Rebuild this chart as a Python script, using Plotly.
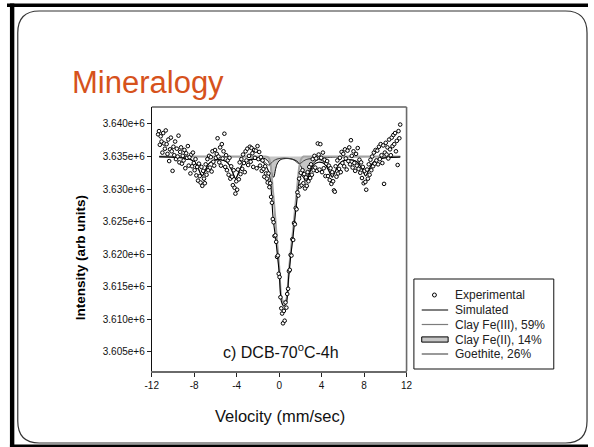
import plotly.graph_objects as go

W, H = 594, 447

# ---------------- data ----------------
velocity = [
    -11.40, -11.32, -11.24, -11.16, -11.08, -11.00, -10.92, -10.84, -10.76, -10.68,
    -10.60, -10.52, -10.44, -10.36, -10.28, -10.20, -10.12, -10.04, -9.96, -9.88,
    -9.80, -9.72, -9.64, -9.56, -9.48, -9.40, -9.32, -9.24, -9.16, -9.08,
    -9.00, -8.92, -8.84, -8.76, -8.68, -8.60, -8.52, -8.44, -8.36, -8.28,
    -8.20, -8.12, -8.04, -7.96, -7.88, -7.80, -7.72, -7.64, -7.56, -7.48,
    -7.40, -7.32, -7.24, -7.16, -7.08, -7.00, -6.92, -6.84, -6.76, -6.68,
    -6.60, -6.52, -6.44, -6.36, -6.28, -6.20, -6.12, -6.04, -5.96, -5.88,
    -5.80, -5.72, -5.64, -5.56, -5.48, -5.40, -5.32, -5.24, -5.16, -5.08,
    -5.00, -4.92, -4.84, -4.76, -4.68, -4.60, -4.52, -4.44, -4.36, -4.28,
    -4.20, -4.12, -4.04, -3.96, -3.88, -3.80, -3.72, -3.64, -3.56, -3.48,
    -3.40, -3.32, -3.24, -3.16, -3.08, -3.00, -2.92, -2.84, -2.76, -2.68,
    -2.60, -2.52, -2.44, -2.36, -2.28, -2.20, -2.12, -2.04, -1.96, -1.88,
    -1.80, -1.72, -1.64, -1.56, -1.48, -1.40, -1.32, -1.24, -1.16, -1.08,
    -1.00, -0.92, -0.84, -0.76, -0.68, -0.60, -0.52, -0.44, -0.36, -0.28,
    -0.20, -0.12, -0.04, 0.04, 0.12, 0.20, 0.28, 0.36, 0.44, 0.52,
    0.60, 0.68, 0.76, 0.84, 0.92, 1.00, 1.08, 1.16, 1.24, 1.32,
    1.40, 1.48, 1.56, 1.64, 1.72, 1.80, 1.88, 1.96, 2.04, 2.12,
    2.20, 2.28, 2.36, 2.44, 2.52, 2.60, 2.68, 2.76, 2.84, 2.92,
    3.00, 3.08, 3.16, 3.24, 3.32, 3.40, 3.48, 3.56, 3.64, 3.72,
    3.80, 3.88, 3.96, 4.04, 4.12, 4.20, 4.28, 4.36, 4.44, 4.52,
    4.60, 4.68, 4.76, 4.84, 4.92, 5.00, 5.08, 5.16, 5.24, 5.32,
    5.40, 5.48, 5.56, 5.64, 5.72, 5.80, 5.88, 5.96, 6.04, 6.12,
    6.20, 6.28, 6.36, 6.44, 6.52, 6.60, 6.68, 6.76, 6.84, 6.92,
    7.00, 7.08, 7.16, 7.24, 7.32, 7.40, 7.48, 7.56, 7.64, 7.72,
    7.80, 7.88, 7.96, 8.04, 8.12, 8.20, 8.28, 8.36, 8.44, 8.52,
    8.60, 8.68, 8.76, 8.84, 8.92, 9.00, 9.08, 9.16, 9.24, 9.32,
    9.40, 9.48, 9.56, 9.64, 9.72, 9.80, 9.88, 9.96, 10.04, 10.12,
    10.20, 10.28, 10.36, 10.44, 10.52, 10.60, 10.68, 10.76, 10.84, 10.92,
    11.00, 11.08, 11.16, 11.24, 11.32, 11.40,
]

# experimental counts, in thousands
counts_k = [
    3638.4, 3638.9, 3636.8, 3638.1, 3637.3, 3635.6, 3638.6, 3637.0, 3636.2, 3639.0,
    3636.9, 3635.4, 3637.6, 3634.3, 3636.1, 3637.9, 3635.8, 3632.8, 3636.5, 3635.2,
    3637.3, 3634.6, 3636.2, 3635.0, 3638.2, 3634.1, 3635.7, 3636.4, 3633.9, 3635.1,
    3634.4, 3636.0, 3633.2, 3635.5, 3634.8, 3636.6, 3633.6, 3634.9, 3632.4, 3635.3,
    3633.5, 3635.6, 3634.0, 3632.9, 3634.6, 3632.1, 3633.4, 3631.3, 3633.9, 3632.0,
    3631.0, 3633.4, 3630.5, 3632.8, 3631.6, 3630.9, 3633.8, 3632.2, 3634.6, 3632.9,
    3635.1, 3633.3, 3634.9, 3632.7, 3635.8, 3634.2, 3633.6, 3636.0, 3634.8, 3635.4,
    3637.8, 3635.0, 3634.1, 3636.4, 3633.6, 3636.9, 3634.7, 3635.8, 3638.5,
    3633.4, 3635.2, 3632.9, 3634.4, 3632.2, 3634.8, 3631.6, 3633.5, 3631.9, 3630.6,
    3632.9, 3630.2, 3629.3, 3631.2, 3629.9, 3633.0, 3631.5, 3634.1, 3632.3, 3634.6,
    3633.1, 3635.3, 3634.0, 3632.6, 3635.8, 3634.4, 3636.2, 3633.7, 3635.1, 3636.5,
    3634.2, 3636.3, 3635.5, 3633.4, 3636.0, 3634.8, 3635.9, 3633.2, 3636.6, 3634.6,
    3635.7, 3633.6, 3634.9, 3632.8, 3634.4, 3633.1, 3631.9, 3633.5, 3632.4, 3631.6,
    3631.0, 3632.4, 3630.3, 3630.9, 3628.8, 3627.9, 3625.4, 3624.9, 3622.8, 3622.9,
    3621.9, 3619.6, 3619.8, 3617.0, 3616.5, 3613.4, 3611.7, 3610.9, 3609.4, 3611.3,
    3609.8, 3612.6, 3611.8, 3613.9, 3614.7, 3617.4, 3617.6, 3619.9, 3619.8, 3622.3,
    3622.2, 3624.8, 3624.6, 3627.1, 3626.9, 3629.5, 3629.0, 3631.6, 3630.4, 3632.5,
    3630.6, 3632.9, 3630.9, 3632.3, 3630.1, 3631.8, 3630.5, 3632.6, 3631.2, 3633.4,
    3631.7, 3633.8, 3632.2, 3634.6, 3632.9, 3635.1, 3633.3, 3634.7, 3632.8, 3637.0,
    3635.3, 3633.0, 3636.9, 3634.8, 3632.6, 3635.6, 3633.2, 3634.5, 3632.0, 3633.9,
    3634.3, 3632.0, 3633.6, 3631.4, 3633.2, 3630.8, 3632.6, 3631.2, 3629.8, 3629.6,
    3633.5, 3631.9, 3634.4, 3632.4, 3633.1, 3634.8, 3632.6, 3635.7, 3634.0,
    3635.4, 3633.5, 3636.1, 3634.7, 3633.0, 3635.9, 3634.3, 3636.4, 3633.8, 3637.5,
    3635.1, 3633.3, 3635.8, 3634.0, 3632.8, 3635.4, 3633.6, 3636.3, 3633.1, 3634.5,
    3632.5, 3634.1, 3631.7, 3633.4, 3630.9, 3632.8, 3631.1, 3629.9, 3633.0, 3631.6,
    3633.8, 3632.2, 3634.5, 3632.9, 3635.0, 3633.5, 3635.6, 3633.9, 3636.0, 3634.4,
    3635.9, 3633.8, 3636.5, 3634.6, 3636.9, 3635.2, 3634.0, 3636.7, 3630.8, 3635.6,
    3637.1, 3635.3, 3636.4, 3634.7, 3637.6, 3636.1, 3635.2, 3637.9, 3636.6, 3638.3,
    3636.9, 3638.6, 3635.8, 3637.4, 3633.7, 3638.9, 3637.8, 3639.9,
]

curve_velocity = [
    -11.3, -10.0, -9.0, -8.4, -8.0, -7.7, -7.5, -7.25, -7.0, -6.8,
    -6.5, -6.1, -5.5, -5.0, -4.7, -4.4, -4.1, -3.8, -3.5, -3.1,
    -2.6, -2.0, -1.6, -1.3, -1.0, -0.8, -0.6, -0.5, -0.35, -0.2,
    0.0, 0.2, 0.44, 0.7, 0.9, 1.1, 1.3, 1.5, 1.7, 1.9,
    2.1, 2.3, 2.45, 2.6, 2.8, 3.0, 3.3, 3.7, 4.1, 4.4,
    4.7, 5.0, 5.3, 5.6, 6.0, 6.5, 7.0, 7.4, 7.8, 8.15,
    8.5, 8.8, 9.2, 9.8, 10.5, 11.4,
]

simulated = [
    3634955, 3634898, 3634782, 3634566, 3634175, 3633490, 3632709, 3632019, 3632688, 3633448,
    3634107, 3634441, 3634494, 3634212, 3633700, 3632628, 3631591, 3632613, 3633700, 3634322,
    3634563, 3634494, 3634219, 3633705, 3632735, 3630940, 3626091, 3624525, 3622680, 3620439,
    3617238, 3612793, 3612016, 3612635, 3616589, 3619873, 3622595, 3625777, 3628700, 3631294,
    3632077, 3631780, 3631293, 3631277, 3632096, 3633003, 3633782, 3634122, 3634036, 3633629,
    3632685, 3631787, 3632730, 3633736, 3634287, 3634485, 3634415, 3634090, 3633084, 3632018,
    3633121, 3633998, 3634496, 3634759, 3634866, 3634933,
]

clay_fe3 = [
    3635000, 3635000, 3635000, 3635000, 3635000, 3635000, 3635000, 3635000, 3635000, 3635000,
    3635000, 3635000, 3635000, 3635000, 3635000, 3635000, 3635000, 3635000, 3635000, 3635000,
    3635000, 3635000, 3635000, 3635000, 3634850, 3633700, 3630000, 3628300, 3625200, 3622000,
    3618200, 3613500, 3612600, 3613200, 3617200, 3620600, 3623500, 3627000, 3630400, 3633500,
    3634700, 3635000, 3635000, 3635000, 3635000, 3635000, 3635000, 3635000, 3635000, 3635000,
    3635000, 3635000, 3635000, 3635000, 3635000, 3635000, 3635000, 3635000, 3635000, 3635000,
    3635000, 3635000, 3635000, 3635000, 3635000, 3635000,
]

clay_fe2 = [
    3634995, 3634993, 3634992, 3634991, 3634990, 3634990, 3634989, 3634989, 3634988, 3634988,
    3634987, 3634986, 3634984, 3634982, 3634980, 3634978, 3634976, 3634973, 3634970, 3634964,
    3634952, 3634876, 3634790, 3634638, 3634193, 3633344, 3631863, 3631861, 3632971, 3633833,
    3634352, 3634563, 3634665, 3634693, 3634679, 3634638, 3634563, 3634440, 3634238, 3633898,
    3633320, 3632453, 3631831, 3631718, 3632461, 3633334, 3634114, 3634552, 3634736, 3634809,
    3634855, 3634887, 3634910, 3634926, 3634942, 3634955, 3634965, 3634970, 3634974, 3634978,
    3634981, 3634983, 3634986, 3634989, 3634991, 3634993,
]

goethite = [
    3634960, 3634905, 3634790, 3634575, 3634185, 3633500, 3632720, 3632030, 3632700, 3633460,
    3634120, 3634455, 3634510, 3634230, 3633720, 3632650, 3631615, 3632640, 3633730, 3634358,
    3634611, 3634618, 3634429, 3634067, 3633692, 3633896, 3634228, 3634364, 3634509, 3634606,
    3634686, 3634730, 3634751, 3634742, 3634710, 3634635, 3634532, 3634337, 3634062, 3633896,
    3634057, 3634327, 3634462, 3634559, 3634635, 3634669, 3634668, 3634570, 3634300, 3633820,
    3632830, 3631900, 3632820, 3633810, 3634345, 3634530, 3634450, 3634120, 3633110, 3632040,
    3633140, 3634015, 3634510, 3634770, 3634875, 3634940,
]

x_ticks = [-12, -8, -4, 0, 4, 8, 12]
x_tick_labels = ["-12", "-8", "-4", "0", "4", "8", "12"]
y_ticks = [3605000, 3610000, 3615000, 3620000, 3625000, 3630000, 3635000, 3640000]
y_tick_labels = ["3.605e+6", "3.610e+6", "3.615e+6", "3.620e+6",
                 "3.625e+6", "3.630e+6", "3.635e+6", "3.640e+6"]

legend_labels = ["Experimental", "Simulated", "Clay Fe(III), 59%",
                 "Clay Fe(II), 14%", "Goethite, 26%"]

# ---------------- styling ----------------
FONT = "Liberation Sans, Arial, sans-serif"
C_SIM = "#000000"
C_FE3 = "#a3a3a3"
C_FE2_FILL = "#c6c6c6"
C_GOE = "#3c3c3c"


def px(x):
    return x / W


def py(y):
    return 1 - y / H


fig = go.Figure()

fig.add_trace(go.Scatter(
    x=curve_velocity, y=clay_fe2, mode="lines", name=legend_labels[3],
    line=dict(color="#000000", width=1, shape="spline", smoothing=0.8),
    fill="toself", fillcolor=C_FE2_FILL, showlegend=False))
fig.add_trace(go.Scatter(
    x=curve_velocity, y=clay_fe3, mode="lines", name=legend_labels[2],
    line=dict(color=C_FE3, width=2, shape="spline", smoothing=0.6), showlegend=False))
fig.add_trace(go.Scatter(
    x=curve_velocity, y=goethite, mode="lines", name=legend_labels[4],
    line=dict(color=C_GOE, width=1, shape="spline", smoothing=0.8), showlegend=False))
fig.add_trace(go.Scatter(
    x=curve_velocity, y=simulated, mode="lines", name=legend_labels[1],
    line=dict(color=C_SIM, width=1.1, shape="spline", smoothing=0.6), showlegend=False))
fig.add_trace(go.Scatter(
    x=velocity, y=[c * 1000 for c in counts_k], mode="markers", name=legend_labels[0],
    marker=dict(symbol="circle", size=3.6, color="white",
                line=dict(color="#000000", width=1)),
    showlegend=False))

# plot box in pixels
PL, PR, PT, PB = 148, 408.5, 107, 371

tickfont = dict(family=FONT, size=10, color="#111111")
fig.update_layout(
    width=W, height=H,
    margin=dict(l=0, r=0, t=0, b=0),
    paper_bgcolor="white", plot_bgcolor="white",
    showlegend=False,
    xaxis=dict(domain=[px(PL), px(PR)], range=[-12, 12],
               tickvals=x_ticks, ticktext=x_tick_labels,
               ticks="outside", ticklen=4, tickcolor="#222222", tickwidth=1,
               showline=True, linecolor="#6a6a6a", linewidth=1.6,
               showgrid=False, zeroline=False, tickfont=tickfont),
    yaxis=dict(domain=[py(PB), py(PT)], range=[3602080, 3642600],
               tickvals=y_ticks, ticktext=y_tick_labels,
               ticks="outside", ticklen=4, tickcolor="#222222", tickwidth=1,
               showline=True, linecolor="#111111", linewidth=1,
               showgrid=False, zeroline=False, tickfont=tickfont),
)


def rounded_rect_path(x0, y0, x1, y1, r):
    pts = [
        ("M", [(x0 + r, y0)]),
        ("L", [(x1 - r, y0)]),
        ("Q", [(x1, y0), (x1, y0 + r)]),
        ("L", [(x1, y1 - r)]),
        ("Q", [(x1, y1), (x1 - r, y1)]),
        ("L", [(x0 + r, y1)]),
        ("Q", [(x0, y1), (x0, y1 - r)]),
        ("L", [(x0, y0 + r)]),
        ("Q", [(x0, y0), (x0 + r, y0)]),
    ]
    s = ""
    for cmd, ps in pts:
        s += cmd + " " + " ".join(f"{px(a):.5f},{py(b):.5f}" for a, b in ps) + " "
    return s + "Z"


shapes = []
# slide frame
shapes.append(dict(type="rect", xref="paper", yref="paper",
                   x0=px(0), x1=px(594), y0=py(3.5), y1=py(7),
                   fillcolor="#000000", line=dict(width=0)))
shapes.append(dict(type="rect", xref="paper", yref="paper",
                   x0=px(3), x1=px(7.5), y0=py(3.5), y1=py(447),
                   fillcolor="#000000", line=dict(width=0)))
shapes.append(dict(type="rect", xref="paper", yref="paper",
                   x0=px(3), x1=px(594), y0=py(444.5), y1=py(447),
                   fillcolor="#000000", line=dict(width=0)))
shapes.append(dict(type="path", xref="paper", yref="paper",
                   path=rounded_rect_path(11, 11, 593, 443, 22),
                   line=dict(color="#333333", width=1.2)))
# plot frame (top black, right grey)
shapes.append(dict(type="line", xref="paper", yref="paper",
                   x0=px(PL), x1=px(PR), y0=py(PT), y1=py(PT),
                   line=dict(color="#111111", width=1)))
shapes.append(dict(type="line", xref="paper", yref="paper",
                   x0=px(PR), x1=px(PR), y0=py(PT), y1=py(PB),
                   line=dict(color="#6a6a6a", width=1.6)))

# legend (drawn manually to match the compact row spacing)
LX0, LX1, LY0, LY1 = 416, 559, 279, 369
rows = [295, 310, 324.5, 339.5, 354]
SX0, SX1 = 424, 451
shapes.append(dict(type="rect", xref="paper", yref="paper",
                   x0=px(LX0), x1=px(LX1), y0=py(LY0), y1=py(LY1),
                   fillcolor="white", line=dict(color="#111111", width=1)))
shapes.append(dict(type="circle", xref="paper", yref="paper",
                   x0=px(435), x1=px(439), y0=py(rows[0] - 2), y1=py(rows[0] + 2),
                   fillcolor="white", line=dict(color="#000000", width=1)))
shapes.append(dict(type="line", xref="paper", yref="paper",
                   x0=px(SX0), x1=px(SX1), y0=py(rows[1]), y1=py(rows[1]),
                   line=dict(color=C_SIM, width=1)))
shapes.append(dict(type="line", xref="paper", yref="paper",
                   x0=px(SX0), x1=px(SX1), y0=py(rows[2]), y1=py(rows[2]),
                   line=dict(color="#7c7c7c", width=1.2)))
shapes.append(dict(type="rect", xref="paper", yref="paper",
                   x0=px(SX0), x1=px(SX1), y0=py(rows[3] - 2.6), y1=py(rows[3] + 2.6),
                   fillcolor=C_FE2_FILL, line=dict(color="#000000", width=1)))
shapes.append(dict(type="line", xref="paper", yref="paper",
                   x0=px(SX0), x1=px(SX1), y0=py(rows[4]), y1=py(rows[4]),
                   line=dict(color="#555555", width=1.2)))

annotations = []
for lab, yy in zip(legend_labels, rows):
    annotations.append(dict(text=lab, xref="paper", yref="paper",
                            x=px(458), y=py(yy), xanchor="left", yanchor="middle",
                            showarrow=False, borderpad=0, borderwidth=0,
                            font=dict(family=FONT, size=12, color="#222222")))

annotations.append(dict(text="Mineralogy", xref="paper", yref="paper",
                        x=px(66), y=py(82), xanchor="left", yanchor="middle",
                        showarrow=False, borderpad=0, borderwidth=0,
                        font=dict(family=FONT, size=31, color="#D6521C")))
annotations.append(dict(text="c) DCB-70<sup>o</sup>C-4h", xref="paper", yref="paper",
                        x=px(280), y=py(360.5), xanchor="center", yanchor="bottom",
                        showarrow=False, borderpad=0, borderwidth=0,
                        font=dict(family=FONT, size=16, color="#111111")))
annotations.append(dict(text="Velocity (mm/sec)", xref="paper", yref="paper",
                        x=px(279), y=py(416), xanchor="center", yanchor="middle",
                        showarrow=False, borderpad=0, borderwidth=0,
                        font=dict(family=FONT, size=16.5, color="#111111")))
annotations.append(dict(text="<b>Intensity (arb units)</b>", xref="paper", yref="paper",
                        x=px(75), y=py(258), xanchor="center", yanchor="middle",
                        textangle=-90, showarrow=False, borderpad=0, borderwidth=0,
                        font=dict(family=FONT, size=13.5, color="#000000")))

fig.update_layout(shapes=shapes, annotations=annotations)

fig.write_html("out.html")
